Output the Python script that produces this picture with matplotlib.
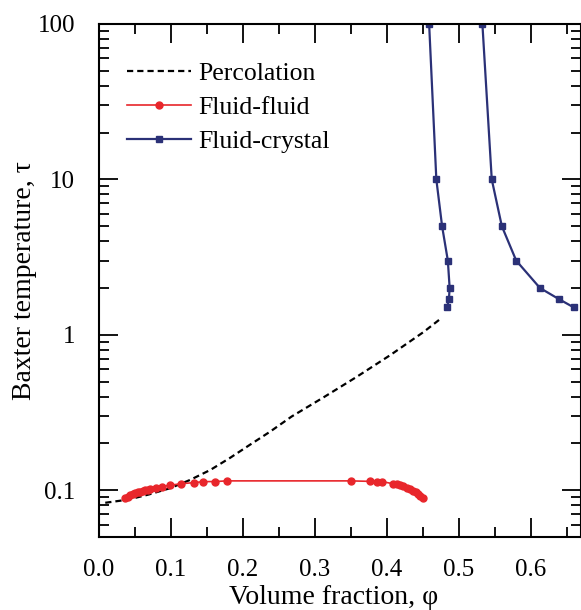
import numpy as np
import matplotlib.pyplot as plt
from matplotlib.ticker import MultipleLocator, LogLocator, FixedLocator, NullFormatter

plt.rcParams['font.family'] = ['Liberation Serif', 'DejaVu Serif']

# percolation line (dashed)
perc_phi = [0.009, 0.041, 0.070, 0.099, 0.127, 0.155, 0.182, 0.210, 0.238, 0.268,
            0.312, 0.358, 0.405, 0.451, 0.476]
perc_tau = [0.083, 0.087, 0.094, 0.103, 0.1165, 0.135, 0.161, 0.196, 0.238, 0.298,
            0.395, 0.535, 0.74, 1.04, 1.28]

# fluid-fluid coexistence
ff_phi = [0.0365, 0.040, 0.0435, 0.047, 0.0504, 0.054, 0.0574, 0.061, 0.0645, 0.068,
          0.0715, 0.0796, 0.0875, 0.099, 0.114, 0.133, 0.145, 0.1615, 0.178,
          0.350, 0.377, 0.386, 0.394, 0.409, 0.414, 0.418, 0.423, 0.428,
          0.432, 0.437, 0.441, 0.444, 0.447, 0.450]
ff_tau = [0.0888, 0.0905, 0.0925, 0.094, 0.0955, 0.0968, 0.098, 0.099, 0.100, 0.101,
          0.102, 0.104, 0.1056, 0.1076, 0.110, 0.112, 0.1135, 0.1137, 0.1148,
          0.1148, 0.1140, 0.1137, 0.1135, 0.110, 0.109, 0.1076, 0.106, 0.104,
          0.102, 0.0995, 0.097, 0.0947, 0.092, 0.0888]

# fluid-crystal coexistence
fc_phi = [0.459, 0.469, 0.477, 0.485, 0.4875, 0.4865, 0.484]
fc_tau = [100, 10, 5.0, 3.0, 2.0, 1.7, 1.5]
fc_phi2 = [0.533, 0.546, 0.560, 0.580, 0.613, 0.639, 0.660]
fc_tau2 = [100, 10, 5.0, 3.0, 2.0, 1.7, 1.5]

navy = '#2B3177'
red = '#E8262B'

fig = plt.figure(figsize=(5.81, 6.10), dpi=100)
ax = fig.add_axes([0.170, 0.1197, 0.830, 0.841])

ax.plot(perc_phi, perc_tau, color='black', ls=(0, (2.8, 1.8)), lw=1.6, label='Percolation')
ax.plot(ff_phi, ff_tau, color=red, lw=1.2, marker='o', ms=5, label='Fluid-fluid')
ax.plot(fc_phi, fc_tau, color=navy, lw=1.6, marker='s', ms=4.5, label='Fluid-crystal')
ax.plot(fc_phi2, fc_tau2, color=navy, lw=1.6, marker='s', ms=4.5)

ax.set_yscale('log')
ax.set_xlim(0, 0.67)
ax.set_ylim(0.05, 100)
ax.xaxis.set_major_locator(MultipleLocator(0.1))
ax.xaxis.set_minor_locator(MultipleLocator(0.05))
ax.set_xticklabels([f'{v:.1f}' for v in ax.get_xticks()])
ax.yaxis.set_major_locator(FixedLocator([0.1, 1, 10, 100]))
ax.set_yticklabels(['0.1', '1', '10', '100'])
ax.yaxis.set_minor_locator(LogLocator(base=10, subs=np.arange(2, 10)))
ax.yaxis.set_minor_formatter(NullFormatter())

ax.tick_params(which='both', direction='in', top=True, right=True, labelsize=18, width=1.3)
ax.tick_params(which='major', length=14)
ax.tick_params(which='minor', length=7)
ax.tick_params(axis='x', which='major', pad=16)
ax.tick_params(axis='y', which='major', pad=17)
for s in ax.spines.values():
    s.set_linewidth(1.5)

ax.set_xlabel('Volume fraction, φ', fontsize=20)
ax.set_ylabel('Baxter temperature, τ', fontsize=20)
ax.xaxis.set_label_coords(0.487, -0.093)
ax.yaxis.set_label_coords(-0.128, 0.5)

ax.legend(loc='upper left', frameon=False, fontsize=18.5, handlelength=2.5,
          labelspacing=0.42, handletextpad=0.3, bbox_to_anchor=(0.01, 0.97))

fig.savefig('out.png', dpi=100)
